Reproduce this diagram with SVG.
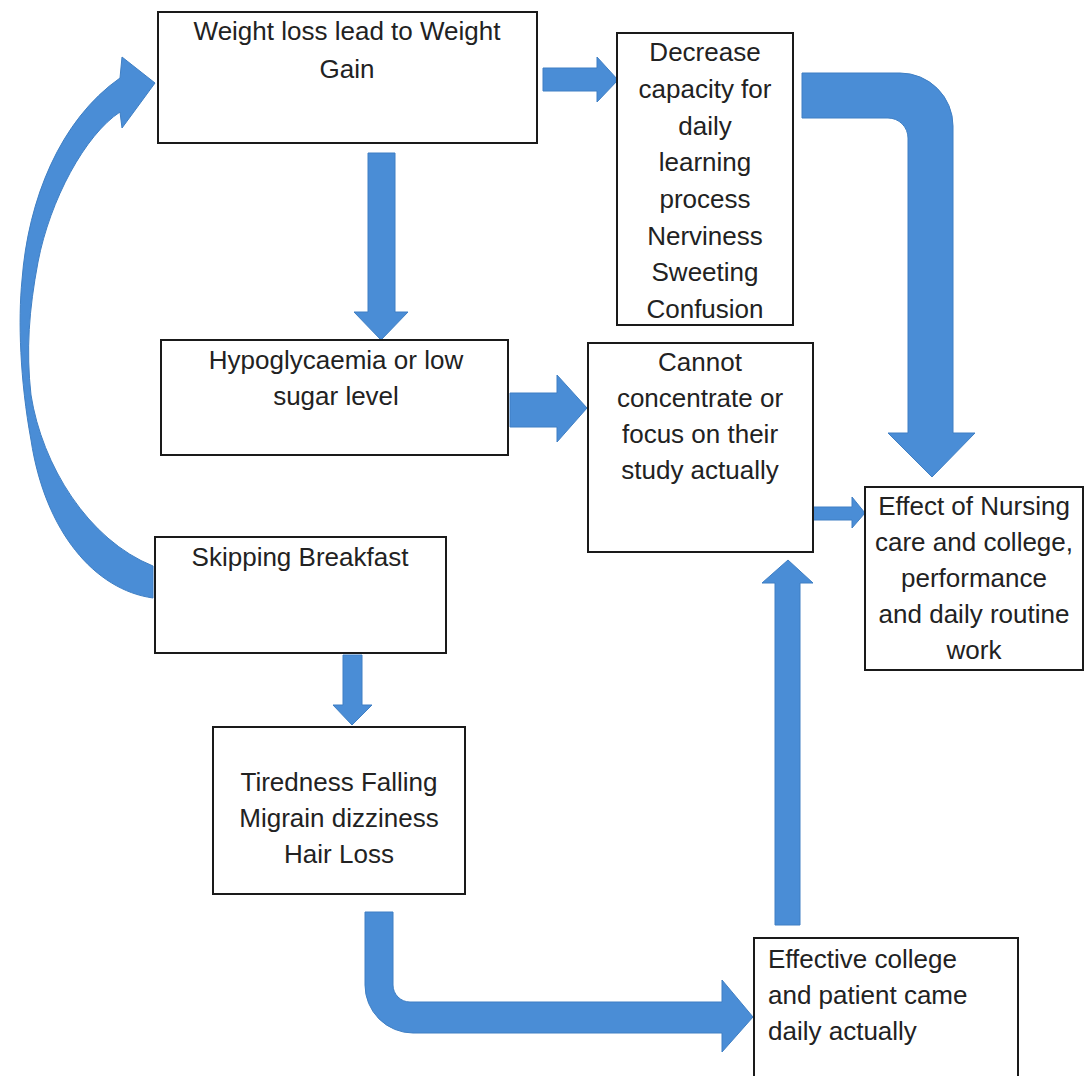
<svg xmlns="http://www.w3.org/2000/svg" width="1086" height="1076" viewBox="0 0 1086 1076">
<style>
.box{fill:#fff;stroke:#1a1a1a;stroke-width:2}
.t{font-family:"Liberation Sans",Arial,sans-serif;font-size:26px;fill:#222;text-anchor:middle}
.tl{text-anchor:start}
.arr{fill:#4a8dd6;stroke:#3f7fc4;stroke-width:1}
</style>
<rect width="1086" height="1076" fill="#fff"/>
<g id="connectors">
<path class="arr" d="M153,598 C95,590 45,532 31,440 C20,380 18,320 22,280 C28,200 60,120 120,78 L122,57 L155,83 L122,128 L120,112 C85,135 50,200 38,262 C29,310 26,350 31,395 C42,465 88,540 153,566 Z"/>
<path class="arr" d="M543,68 L597,68 L597,57 L618,80 L597,102 L597,91 L543,91 Z"/>
<path class="arr" d="M368,153 L395,153 L395,312 L408,312 L381,340 L354,312 L368,312 Z"/>
<path class="arr" d="M802,73 L900,73 A53,53 0 0 1 953,126 L953,433 L975,433 L932,477 L888,433 L908,433 L908,138 A20,20 0 0 0 888,118 L802,118 Z"/>
<path class="arr" d="M510,393 L557,393 L557,375 L587,408 L557,442 L557,427 L510,427 Z"/>
<path class="arr" d="M813,507 L852,507 L852,497 L865,513 L852,528 L852,520 L813,520 Z"/>
<path class="arr" d="M343,655 L362,655 L362,705 L372,705 L352,725 L333,705 L343,705 Z"/>
<path class="arr" d="M775,925 L775,583 L762,583 L788,560 L813,583 L800,583 L800,925 Z"/>
<path class="arr" d="M365,912 L393,912 L393,985 A17,17 0 0 0 410,1002 L722,1002 L722,980 L753,1017 L722,1052 L722,1033 L413,1033 A48,48 0 0 1 365,985 Z"/>
</g>
<g id="n1"><rect class="box" x="158" y="12" width="379" height="131"/>
<text class="t" x="347" y="40">Weight loss lead to Weight</text><text class="t" x="347" y="78">Gain</text></g>
<g id="n2"><rect class="box" x="617" y="33" width="176" height="292"/>
<text class="t" x="705" y="61">Decrease</text><text class="t" x="705" y="98">capacity for</text><text class="t" x="705" y="135">daily</text><text class="t" x="705" y="171">learning</text><text class="t" x="705" y="208">process</text><text class="t" x="705" y="245">Nerviness</text><text class="t" x="705" y="281">Sweeting</text><text class="t" x="705" y="318">Confusion</text></g>
<g id="n3"><rect class="box" x="161" y="340" width="347" height="115"/>
<text class="t" x="336" y="369">Hypoglycaemia or low</text><text class="t" x="336" y="405">sugar level</text></g>
<g id="n4"><rect class="box" x="588" y="343" width="225" height="209"/>
<text class="t" x="700" y="371">Cannot</text><text class="t" x="700" y="407">concentrate or</text><text class="t" x="700" y="443">focus on their</text><text class="t" x="700" y="479">study actually</text></g>
<g id="n5"><rect class="box" x="865" y="487" width="218" height="183"/>
<text class="t" x="974" y="515">Effect of Nursing</text><text class="t" x="974" y="551">care and college,</text><text class="t" x="974" y="587">performance</text><text class="t" x="974" y="623">and daily routine</text><text class="t" x="974" y="659">work</text></g>
<g id="n6"><rect class="box" x="155" y="537" width="291" height="116"/>
<text class="t" x="300" y="566">Skipping Breakfast</text></g>
<g id="n7"><rect class="box" x="213" y="727" width="252" height="167"/>
<text class="t" x="339" y="791">Tiredness Falling</text><text class="t" x="339" y="827">Migrain dizziness</text><text class="t" x="339" y="863">Hair Loss</text></g>
<g id="n8"><rect class="box" x="754" y="938" width="264" height="145"/>
<text class="t tl" x="768" y="968">Effective college</text><text class="t tl" x="768" y="1004">and patient came</text><text class="t tl" x="768" y="1040">daily actually</text></g>
</svg>
